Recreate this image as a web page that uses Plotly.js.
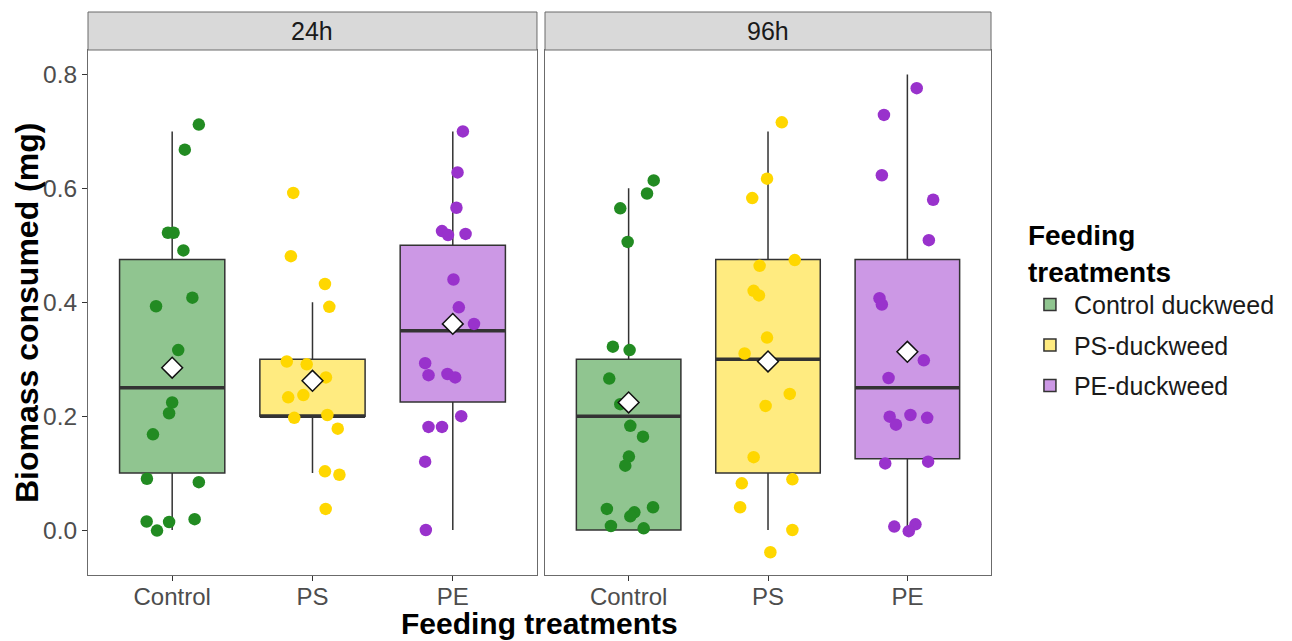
<!DOCTYPE html>
<html>
<head>
<meta charset="utf-8">
<script src="https://cdn.plot.ly/plotly-3.0.1.min.js"></script>
<style>html,body{margin:0;padding:0;background:#fff;}#chart{width:1292px;height:641px;}</style>
</head>
<body>
<div id="chart"></div>
<script>
// ---------- data ----------
const categories = ['Control', 'PS', 'PE'];
const treatments = ['Control duckweed', 'PS-duckweed', 'PE-duckweed'];
const times = ['24h', '96h'];

const ctrl24 = [0.712, 0.668, 0.522, 0.522, 0.491, 0.408, 0.393, 0.316, 0.224, 0.205, 0.168, 0.090, 0.084, 0.015, 0.019, 0.014, -0.001];
const ctrl24Jit = [0.19, 0.09, -0.03, 0.01, 0.08, 0.144, -0.115, 0.043, 0.0, -0.022, -0.137, -0.18, 0.19, -0.182, 0.16, -0.022, -0.108];
const ps24 = [0.592, 0.481, 0.432, 0.392, 0.296, 0.291, 0.268, 0.233, 0.237, 0.197, 0.202, 0.178, 0.103, 0.097, 0.037];
const ps24Jit = [-0.137, -0.154, 0.089, 0.12, -0.183, -0.041, 0.096, -0.173, -0.065, -0.13, 0.106, 0.18, 0.089, 0.192, 0.094];
const pe24 = [0.700, 0.628, 0.566, 0.525, 0.518, 0.520, 0.440, 0.391, 0.362, 0.293, 0.272, 0.274, 0.268, 0.200, 0.181, 0.181, 0.120, 0.000];
const pe24Jit = [0.072, 0.034, 0.026, -0.077, -0.034, 0.091, 0.005, 0.043, 0.151, -0.197, -0.173, -0.038, 0.017, 0.06, -0.173, -0.077, -0.197, -0.192];

const ctrl96 = [0.614, 0.591, 0.565, 0.506, 0.322, 0.316, 0.266, 0.221, 0.183, 0.164, 0.129, 0.113, 0.037, 0.031, 0.024, 0.040, 0.007, 0.003];
const ctrl96Jit = [0.18, 0.132, -0.06, -0.007, -0.113, 0.007, -0.139, -0.06, 0.012, 0.103, 0.002, -0.024, -0.156, 0.041, 0.012, 0.175, -0.127, 0.108];
const ps96 = [0.716, 0.617, 0.583, 0.474, 0.464, 0.420, 0.412, 0.338, 0.310, 0.239, 0.218, 0.128, 0.082, 0.089, 0.040, 0.000, -0.039];
const ps96Jit = [0.099, -0.007, -0.113, 0.192, -0.06, -0.103, -0.065, -0.007, -0.168, 0.156, -0.017, -0.103, -0.188, 0.175, -0.2, 0.175, 0.017];
const pe96 = [0.776, 0.729, 0.623, 0.580, 0.509, 0.407, 0.396, 0.298, 0.267, 0.199, 0.185, 0.202, 0.197, 0.117, 0.120, 0.006, 0.010, -0.002];
const pe96Jit = [0.067, -0.168, -0.183, 0.185, 0.154, -0.2, -0.183, 0.118, -0.135, -0.127, -0.082, 0.022, 0.142, -0.159, 0.149, -0.094, 0.058, 0.01];

// box statistics per treatment (Control, PS, PE)
const lower24 = [0.0, 0.1, 0.0];
const q1_24 = [0.1, 0.2, 0.225];
const median24 = [0.25, 0.2, 0.35];
const q3_24 = [0.475, 0.3, 0.5];
const upper24 = [0.7, 0.4, 0.7];
const mean24 = [0.285, 0.262, 0.362];

const lower96 = [0.0, 0.0, 0.0];
const q1_96 = [0.0, 0.1, 0.125];
const median96 = [0.2, 0.3, 0.25];
const q3_96 = [0.3, 0.475, 0.475];
const upper96 = [0.6, 0.7, 0.8];
const mean96 = [0.224, 0.296, 0.313];

// ---------- styling ----------
const pointColors = ['#228B22', '#FFD700', '#9932CC'];
const fillColors = ['#90C590', '#FFEB80', '#CC98E5'];
const lineCol = '#333333';
const borderCol = '#6b6b6b';
const boxWidth = 0.75;
const FONT = 'Liberation Sans, Arial, sans-serif';

const panels = [
  {time: times[0], xa: 'x', ya: 'y', pts: [ctrl24, ps24, pe24], jit: [ctrl24Jit, ps24Jit, pe24Jit],
   lower: lower24, q1: q1_24, med: median24, q3: q3_24, upper: upper24, mean: mean24},
  {time: times[1], xa: 'x2', ya: 'y2', pts: [ctrl96, ps96, pe96], jit: [ctrl96Jit, ps96Jit, pe96Jit],
   lower: lower96, q1: q1_96, med: median96, q3: q3_96, upper: upper96, mean: mean96}
];

const traces = [];
panels.forEach((p, pi) => {
  categories.forEach((c, ci) => {
    const pos = ci + 1;
    traces.push({
      type: 'box', xaxis: p.xa, yaxis: p.ya,
      name: treatments[ci], legendgroup: treatments[ci], showlegend: pi === 0,
      x: [pos], q1: [p.q1[ci]], median: [p.med[ci]], q3: [p.q3[ci]],
      lowerfence: [p.lower[ci]], upperfence: [p.upper[ci]],
      width: boxWidth, whiskerwidth: 0, boxpoints: false,
      fillcolor: fillColors[ci], line: {color: lineCol, width: 1.5},
      marker: {color: pointColors[ci]}, hoverinfo: 'skip'
    });
  });
});
// thick median lines
panels.forEach((p) => {
  categories.forEach((c, ci) => {
    const pos = ci + 1;
    traces.push({
      type: 'scatter', mode: 'lines', xaxis: p.xa, yaxis: p.ya, showlegend: false,
      x: [pos - boxWidth / 2, pos + boxWidth / 2], y: [p.med[ci], p.med[ci]],
      line: {color: lineCol, width: 3.5}, hoverinfo: 'skip'
    });
  });
});
// jittered points
panels.forEach((p) => {
  categories.forEach((c, ci) => {
    const pos = ci + 1;
    traces.push({
      type: 'scatter', mode: 'markers', xaxis: p.xa, yaxis: p.ya, showlegend: false,
      legendgroup: treatments[ci],
      x: p.jit[ci].map(d => pos + d), y: p.pts[ci],
      marker: {color: pointColors[ci], size: 12.5}
    });
  });
});
// mean diamonds
panels.forEach((p) => {
  traces.push({
    type: 'scatter', mode: 'markers', xaxis: p.xa, yaxis: p.ya, showlegend: false,
    x: categories.map((c, i) => i + 1), y: p.mean,
    marker: {symbol: 'diamond', size: 16, color: '#ffffff', line: {color: '#111111', width: 1.5}}
  });
});

const yDomTop = 0.9325;
const xCommon = {
  range: [0.4, 3.6], tickvals: [1, 2, 3], ticktext: categories,
  showgrid: false, zeroline: false, ticks: 'outside', ticklen: 5, tickcolor: lineCol,
  showline: true, mirror: true, linecolor: borderCol, linewidth: 1, ticklabelstandoff: -5,
  tickfont: {family: FONT, size: 24, color: '#4d4d4d'}
};
const yCommon = {
  range: [-0.079, 0.843], tickvals: [0, 0.2, 0.4, 0.6, 0.8], ticktext: ['0.0', '0.2', '0.4', '0.6', '0.8'],
  showgrid: false, zeroline: false, ticks: 'outside', ticklen: 5, tickcolor: lineCol,
  showline: true, mirror: true, linecolor: borderCol, linewidth: 1,
  tickfont: {family: FONT, size: 24.5, color: '#4d4d4d'}, domain: [0, yDomTop]
};
const xDom1 = [0, 0.4972], xDom2 = [0.5061, 1];

const layout = {
  width: 1292, height: 641,
  margin: {l: 88, r: 299, t: 12, b: 66},
  paper_bgcolor: '#ffffff', plot_bgcolor: '#ffffff',
  font: {family: FONT},
  xaxis: Object.assign({}, xCommon, {domain: xDom1, anchor: 'y'}),
  xaxis2: Object.assign({}, xCommon, {domain: xDom2, anchor: 'y2'}),
  yaxis: Object.assign({}, yCommon, {anchor: 'x'}),
  yaxis2: Object.assign({}, yCommon, {anchor: 'x2', showticklabels: false, ticks: ''}),
  showlegend: true,
  legend: {
    x: 1.0387, y: 0.65, xanchor: 'left', yanchor: 'top',
    title: {text: '<b>Feeding<br>treatments</b>', font: {family: FONT, size: 28, color: '#000'}},
    font: {family: FONT, size: 25, color: '#1a1a1a'},
    tracegroupgap: 5, itemwidth: 38
  },
  shapes: [
    {type: 'rect', xref: 'paper', yref: 'paper', x0: xDom1[0], x1: xDom1[1], y0: yDomTop, y1: 1,
     fillcolor: '#d9d9d9', line: {color: borderCol, width: 1}},
    {type: 'rect', xref: 'paper', yref: 'paper', x0: xDom2[0], x1: xDom2[1], y0: yDomTop, y1: 1,
     fillcolor: '#d9d9d9', line: {color: borderCol, width: 1}}
  ],
  annotations: [
    {text: times[0], xref: 'paper', yref: 'paper', x: (xDom1[0] + xDom1[1]) / 2, y: (yDomTop + 1) / 2,
     showarrow: false, xanchor: 'center', yanchor: 'middle', font: {family: FONT, size: 25, color: '#1a1a1a'}},
    {text: times[1], xref: 'paper', yref: 'paper', x: (xDom2[0] + xDom2[1]) / 2, y: (yDomTop + 1) / 2,
     showarrow: false, xanchor: 'center', yanchor: 'middle', font: {family: FONT, size: 25, color: '#1a1a1a'}},
    {text: '<b>Feeding treatments</b>', xref: 'paper', yref: 'paper', x: 0.5, y: -0.1172,
     showarrow: false, xanchor: 'center', yanchor: 'bottom', borderpad: 0,
     font: {family: FONT, size: 30, color: '#000'}},
    {text: '<b>Biomass consumed (mg)</b>', xref: 'paper', yref: 'paper', x: -0.068, y: yDomTop / 2,
     textangle: -90, showarrow: false, xanchor: 'center', yanchor: 'middle', font: {family: FONT, size: 32, color: '#000'}}
  ]
};

Plotly.newPlot('chart', traces, layout, {displayModeBar: false, staticPlot: true});
</script>
</body>
</html>
